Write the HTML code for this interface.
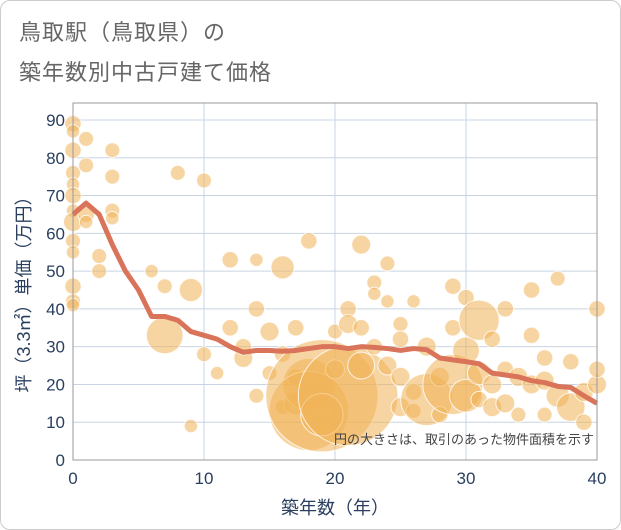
<!DOCTYPE html>
<html><head><meta charset="utf-8"><style>
body{margin:0;background:#fff}
#wrap{position:relative;width:619px;height:528px;border:1px solid #ccc;border-radius:10px;overflow:hidden;background:#fff}
.t{position:absolute;left:18px;font:22px "Liberation Sans","Noto Sans CJK JP",sans-serif;color:#666;letter-spacing:1px}
</style></head><body>
<div id="wrap">
<div class="t" style="top:14px">鳥取駅（鳥取県）の</div>
<div class="t" style="top:54px">築年数別中古戸建て価格</div>
<svg id="c" width="621" height="530" style="position:absolute;left:-1px;top:-1px"></svg>
</div>
<script>
const ages=[0,0,0,0,0,0,0,0,0,0,0,0,0,1,1,1,1,2,2,3,3,3,3,6,7,7,8,9,9,10,10,11,12,12,13,13,14,14,14,15,15,16,16,16,17,17,17,18,18,18,19,19,20,20,21,21,21,22,22,22,23,23,23,24,24,24,25,25,25,25,26,26,26,27,27,28,28,29,29,29,30,30,30,31,31,31,32,32,32,33,33,33,34,34,35,35,35,36,36,36,37,37,38,38,39,39,40,40,40];
const prices=[89,87,82,76,73,70,66,63,58,55,46,42,41,85,78,65,63,54,50,82,75,66,64,50,33,46,76,45,9,74,28,23,35,53,27,30,40,53,17,34,23,51,28,14,35,22,15,58,20,13,17,12,34,24,40,36,17,57,35,25,47,44,30,52,42,25,36,32,22,14,18,13,42,30,16,22,12,46,35,20,43,29,17,37,23,16,32,20,14,40,24,15,22,12,45,33,20,27,21,12,48,17,26,14,18,10,40,20,24];
const areas=[30,20,30,25,20,30,20,40,25,20,30,25,20,25,25,30,20,25,25,25,25,25,20,20,150,25,25,60,20,25,25,20,30,30,40,30,30,20,25,40,25,60,30,25,30,30,60,30,300,700,1400,200,25,40,30,40,1100,40,30,80,25,20,30,25,20,40,25,30,40,40,30,25,20,40,300,40,30,30,30,400,30,80,120,180,60,30,30,40,40,30,30,40,40,25,30,30,40,30,40,25,25,60,30,90,40,30,30,40,30];
const lineAges=[0,1,2,3,4,5,6,7,8,9,10,11,12,13,14,15,16,17,18,19,20,21,22,23,24,25,26,27,28,29,30,31,32,33,34,35,36,37,38,39,40];
const lineVals=[65,68,65,57,50,45,38,38,37,34,33,32,30,28.5,29,29,28.8,29,29.5,30,30,29.5,30,29.8,29.5,29,29.5,29.2,27,26.5,26,25.5,23,22.5,22,21,20.5,19.5,19.2,17,15];
const xTicks=[0,10,20,30,40];
const yTicks=[0,10,20,30,40,50,60,70,80,90];
const NS="http://www.w3.org/2000/svg";
const svg=document.getElementById('c');
const L=73,R=597,T=103,B=460;
const X=v=>L+(v/40)*(R-L);
const Y=v=>B-(v/90)*(460-120);
function mk(tag,attrs){const e=document.createElementNS(NS,tag);for(const k in attrs)e.setAttribute(k,attrs[k]);svg.appendChild(e);return e;}
yTicks.forEach(v=>{const g=mk('line',{x1:L,x2:R,y1:Y(v),y2:Y(v),stroke:'#c8d4e3','stroke-width':1});


const t=mk('text',{x:L-8,y:Y(v)+6,'text-anchor':'end','font-size':17,fill:'#2a3f5f','font-family':'Liberation Sans, sans-serif'});t.textContent=v;

});
xTicks.forEach(v=>{const g=mk('line',{x1:X(v),x2:X(v),y1:T,y2:B,stroke:'#c8d4e3','stroke-width':1});


const t=mk('text',{x:X(v),y:B+24,'text-anchor':'middle','font-size':17,fill:'#2a3f5f','font-family':'Liberation Sans, sans-serif'});t.textContent=v;

});
ages.forEach((a,i)=>{const c=mk('circle',{cx:X(a),cy:Y(prices[i]),r:Math.sqrt(areas[i])*1.5,fill:'rgba(240,178,85,0.55)',stroke:'rgba(255,255,255,0.8)','stroke-width':1});

});
const p=mk('polyline',{points:lineAges.map((a,i)=>X(a)+','+Y(lineVals[i])).join(' '),fill:'none',stroke:'#d9735a','stroke-width':5,'stroke-linejoin':'round'});


const fr=mk('rect',{x:L,y:T,width:R-L,height:B-T,fill:'none',stroke:'#999','stroke-width':1});


const note=mk('text',{x:594,y:444,'text-anchor':'end','font-size':13,fill:'#444','font-family':'Liberation Sans, Noto Sans CJK JP, sans-serif'});note.textContent='円の大きさは、取引のあった物件面積を示す';


const xt=mk('text',{x:335,y:514,'text-anchor':'middle','font-size':18,fill:'#2a3f5f','font-family':'Liberation Sans, Noto Sans CJK JP, sans-serif'});xt.textContent='築年数（年）';


const yt=mk('text',{x:0,y:0,'text-anchor':'middle','font-size':18,fill:'#2a3f5f','font-family':'Liberation Sans, Noto Sans CJK JP, sans-serif',transform:'translate(30,290) rotate(-90)'});yt.textContent='坪（3.3㎡）単価（万円）';


</script>
</body></html>
